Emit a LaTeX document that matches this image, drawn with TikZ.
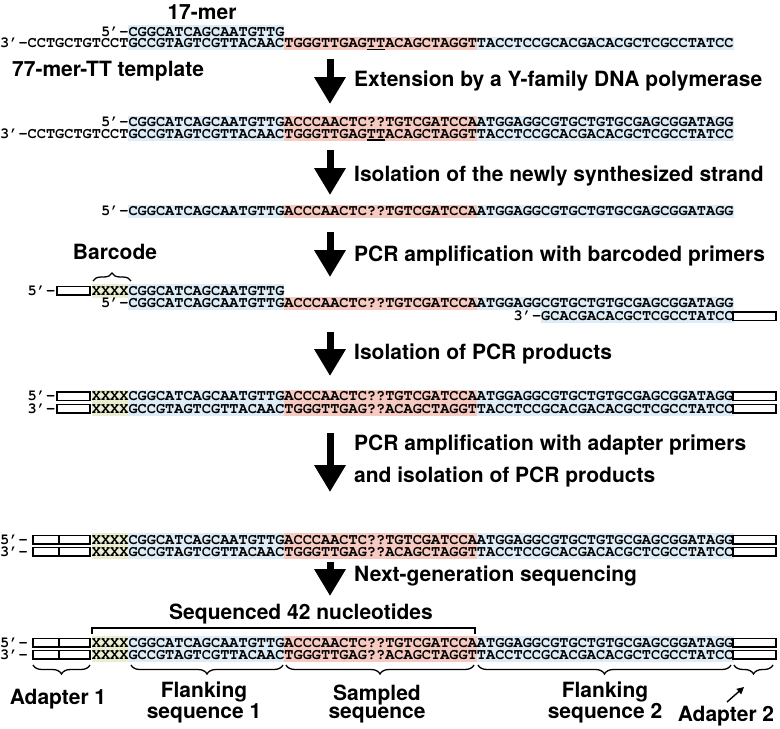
\documentclass[tikz,border=0pt]{standalone}
\usepackage[T1]{fontenc}
\usepackage{fontspec}
\setsansfont{TeX Gyre Heros}
\usetikzlibrary{arrows.meta,decorations.pathreplacing}

\definecolor{flankblue}{RGB}{221,236,246}
\definecolor{samplepink}{RGB}{246,202,192}
\definecolor{codeyellow}{RGB}{235,237,208}

\newcommand{\seqfont}{\fontencoding{T1}\fontfamily{pcr}\fontseries{b}\fontshape{n}\fontsize{15.28}{16}\selectfont}
\newcommand{\labfont}{\sffamily\bfseries\fontsize{21}{18}\selectfont}
\def\cw{9.17}

\tikzset{
	strand/.style={anchor=base west, inner sep=0pt, text height=8pt, text depth=1.5pt, font=\seqfont},
	steplabel/.style={anchor=base west, inner sep=0pt, font=\labfont},
	partlabel/.style={anchor=base, align=center, inner sep=0pt, font=\labfont},
	steparrow/.style={line width=7pt, -{Triangle[length=27pt,width=30pt]}},
	adapterbox/.style={draw, line width=1.4pt, fill=white},
	upbrace/.style={decorate, decoration={brace, amplitude=8pt}, line width=1.3pt},
	downbrace/.style={decorate, decoration={brace, mirror, amplitude=9pt}, line width=1.3pt},
}

\begin{document}
\begin{tikzpicture}[x=1pt,y=-1pt]
	\useasboundingbox (0,0) rectangle (780,729);

	% primer on the 77-mer template
	\fill[flankblue] ({14*\cw},25) rectangle ({31*\cw},50);
	\fill[samplepink] ({31*\cw},37) rectangle ({52*\cw},50);
	\fill[flankblue] ({52*\cw},37) rectangle ({80*\cw},50);
	\node[partlabel] (primerlab) at (202,19) {17-mer};
	\node[strand] (primer) at ({11*\cw},36) {5'-CGGCATCAGCAATGTTG};
	\node[strand] (templA) at (0,47.5) {3'-CCTGCTGTCCTGCCGTAGTCGTTACAACTGGGTTGAGTTACAGCTAGGTTACCTCCGCACGACACGCTCGCCTATCC};
	\draw[line width=1.2pt] ({40*\cw+0.5},49.5) -- ({42*\cw-0.5},49.5);
	\node[steplabel] (templlab) at (12,76) {77-mer-TT template};

	\coordinate (extA) at (330,59);
	\coordinate (extB) at (330,104);
	\draw[steparrow] (extA) -- (extB);
	\node[steplabel] (extlab) at (354,86) {Extension by a Y-family DNA polymerase};

	% extended primer
	\fill[flankblue] ({14*\cw},115.5) rectangle ({31*\cw},140.5);
	\fill[samplepink] ({31*\cw},115.5) rectangle ({52*\cw},140.5);
	\fill[flankblue] ({52*\cw},115.5) rectangle ({80*\cw},140.5);
	\node[strand] (extended) at ({11*\cw},126.5) {5'-CGGCATCAGCAATGTTGACCCAACTC??TGTCGATCCAATGGAGGCGTGCTGTGCGAGCGGATAGG};
	\node[strand] (templB) at (0,138) {3'-CCTGCTGTCCTGCCGTAGTCGTTACAACTGGGTTGAGTTACAGCTAGGTTACCTCCGCACGACACGCTCGCCTATCC};
	\draw[line width=1.2pt] ({40*\cw+0.5},140) -- ({42*\cw-0.5},140);

	\coordinate (isoA) at (330,150);
	\coordinate (isoB) at (330,195);
	\draw[steparrow] (isoA) -- (isoB);
	\node[steplabel] (isolab) at (354,181) {Isolation of the newly synthesized strand};

	% isolated strand
	\fill[flankblue] ({14*\cw},204.5) rectangle ({31*\cw},218);
	\fill[samplepink] ({31*\cw},204.5) rectangle ({52*\cw},218);
	\fill[flankblue] ({52*\cw},204.5) rectangle ({80*\cw},218);
	\node[strand] (newstrand) at ({11*\cw},215.5) {5'-CGGCATCAGCAATGTTGACCCAACTC??TGTCGATCCAATGGAGGCGTGCTGTGCGAGCGGATAGG};

	\coordinate (pcrA) at (330,232);
	\coordinate (pcrB) at (330,277);
	\draw[steparrow] (pcrA) -- (pcrB);
	\node[steplabel] (pcrlab) at (354,261) {PCR amplification with barcoded primers};

	% barcoded primers
	\fill[codeyellow] ({10*\cw},284) rectangle ({14*\cw},297.5);
	\fill[flankblue] ({14*\cw},284) rectangle ({31*\cw},310);
	\fill[samplepink] ({31*\cw},296.5) rectangle ({52*\cw},310);
	\fill[flankblue] ({52*\cw},296.5) rectangle ({80*\cw},310);
	\fill[flankblue] ({59*\cw},296.5) rectangle ({80*\cw},323);
	\node[partlabel] (barlab) at (115,259.5) {Barcode};
	\draw[upbrace] (93,281) -- (131,281);
	\node[strand] (fwdend) at ({3*\cw},295) {5'-};
	\draw[adapterbox] (57,286.5) rectangle (90,295);
	\node[strand] (fwdprimer) at ({10*\cw},295) {XXXXCGGCATCAGCAATGTTG};
	\node[strand] (strandC) at ({11*\cw},307.5) {5'-CGGCATCAGCAATGTTGACCCAACTC??TGTCGATCCAATGGAGGCGTGCTGTGCGAGCGGATAGG};
	\node[strand] (revprimer) at ({56*\cw},320.5) {3'-GCACGACACGCTCGCCTATCC};
	\draw[adapterbox] (733,312) rectangle (776,320.5);

	\coordinate (prodA) at (330,332);
	\coordinate (prodB) at (330,376);
	\draw[steparrow] (prodA) -- (prodB);
	\node[steplabel] (prodlab) at (354,359) {Isolation of PCR products};

	% PCR products
	\fill[codeyellow] ({10*\cw},389.5) rectangle ({14*\cw},415.5);
	\fill[flankblue] ({14*\cw},389.5) rectangle ({31*\cw},415.5);
	\fill[samplepink] ({31*\cw},389.5) rectangle ({52*\cw},415.5);
	\fill[flankblue] ({52*\cw},389.5) rectangle ({80*\cw},415.5);
	\node[strand] (prodtop5) at ({3*\cw},400.5) {5'-};
	\node[strand] (prodbot3) at ({3*\cw},413) {3'-};
	\draw[adapterbox] (57,392) rectangle (90,400.5);
	\draw[adapterbox] (57,404.5) rectangle (90,413);
	\node[strand] (prodtop) at ({10*\cw},400.5) {XXXXCGGCATCAGCAATGTTGACCCAACTC??TGTCGATCCAATGGAGGCGTGCTGTGCGAGCGGATAGG};
	\node[strand] (prodbot) at ({10*\cw},413) {XXXXGCCGTAGTCGTTACAACTGGGTTGAG??ACAGCTAGGTTACCTCCGCACGACACGCTCGCCTATCC};
	\draw[adapterbox] (733,392) rectangle (776,400.5);
	\draw[adapterbox] (733,404.5) rectangle (776,413);

	\coordinate (adaA) at (330,433);
	\coordinate (adaB) at (330,492);
	\draw[steparrow] (adaA) -- (adaB);
	\node[steplabel] (adalabA) at (354,450) {PCR amplification with adapter primers};
	\node[steplabel] (adalabB) at (354,482) {and isolation of PCR products};

	% adapter-ligated products
	\fill[codeyellow] ({10*\cw},533) rectangle ({14*\cw},558.5);
	\fill[flankblue] ({14*\cw},533) rectangle ({31*\cw},558.5);
	\fill[samplepink] ({31*\cw},533) rectangle ({52*\cw},558.5);
	\fill[flankblue] ({52*\cw},533) rectangle ({80*\cw},558.5);
	\node[strand] (adatop5) at (0,544) {5'-};
	\node[strand] (adabot3) at (0,556) {3'-};
	\draw[adapterbox] (33,535.5) rectangle (90,544);
	\draw[adapterbox] (33,547.5) rectangle (90,556);
	\draw[line width=1.4pt] (59,535.5) -- (59,544) (59,547.5) -- (59,556);
	\node[strand] (adatop) at ({10*\cw},544) {XXXXCGGCATCAGCAATGTTGACCCAACTC??TGTCGATCCAATGGAGGCGTGCTGTGCGAGCGGATAGG};
	\node[strand] (adabot) at ({10*\cw},556) {XXXXGCCGTAGTCGTTACAACTGGGTTGAG??ACAGCTAGGTTACCTCCGCACGACACGCTCGCCTATCC};
	\draw[adapterbox] (733,535.5) rectangle (776,544);
	\draw[adapterbox] (733,547.5) rectangle (776,556);

	\coordinate (ngsA) at (330,562);
	\coordinate (ngsB) at (330,596);
	\draw[steparrow] (ngsA) -- (ngsB);
	\node[steplabel] (ngslab) at (354,581) {Next-generation sequencing};

	% sequenced library
	\fill[codeyellow] ({10*\cw},636) rectangle ({14*\cw},661.5);
	\fill[flankblue] ({14*\cw},636) rectangle ({31*\cw},661.5);
	\fill[samplepink] ({31*\cw},636) rectangle ({52*\cw},661.5);
	\fill[flankblue] ({52*\cw},636) rectangle ({80*\cw},661.5);
	\node[strand] (libtop5) at (0,647) {5'-};
	\node[strand] (libbot3) at (0,659) {3'-};
	\draw[adapterbox] (33,638.5) rectangle (90,647);
	\draw[adapterbox] (33,650.5) rectangle (90,659);
	\draw[line width=1.4pt] (59,638.5) -- (59,647) (59,650.5) -- (59,659);
	\node[strand] (libtop) at ({10*\cw},647) {XXXXCGGCATCAGCAATGTTGACCCAACTC??TGTCGATCCAATGGAGGCGTGCTGTGCGAGCGGATAGG};
	\node[strand] (libbot) at ({10*\cw},659) {XXXXGCCGTAGTCGTTACAACTGGGTTGAG??ACAGCTAGGTTACCTCCGCACGACACGCTCGCCTATCC};
	\draw[adapterbox] (733,638.5) rectangle (776,647);
	\draw[adapterbox] (733,650.5) rectangle (776,659);

	\coordinate (readL) at (92,634);
	\coordinate (readR) at (475,634);
	\draw[line width=1.3pt] (readL) -- ++(0,-6) -| (readR);
	\node[partlabel] (readlab) at (301,619) {Sequenced 42 nucleotides};

	\draw[downbrace] (33,665) -- (90,665);
	\draw[downbrace] (131,665) -- (283,665);
	\draw[downbrace] (286,665) -- (474,665);
	\draw[downbrace] (478,665) -- (731,665);
	\draw[downbrace] (734,665) -- (773,665);
	\node[partlabel] (ad1lab) at (58,704) {Adapter 1};
	\node[partlabel] (fl1lab) at (204,718) {Flanking\\sequence 1};
	\node[partlabel] (samplab) at (377,718) {Sampled\\sequence};
	\node[partlabel] (fl2lab) at (605,718) {Flanking\\sequence 2};
	\node[partlabel] (ad2lab) at (726,721) {Adapter 2};
	\coordinate (ad2tail) at (727,702);
	\coordinate (ad2head) at (744,687);
	\draw[line width=1.4pt, -{Triangle[length=7pt,width=7pt]}] (ad2tail) -- (ad2head);
\end{tikzpicture}
\end{document}
